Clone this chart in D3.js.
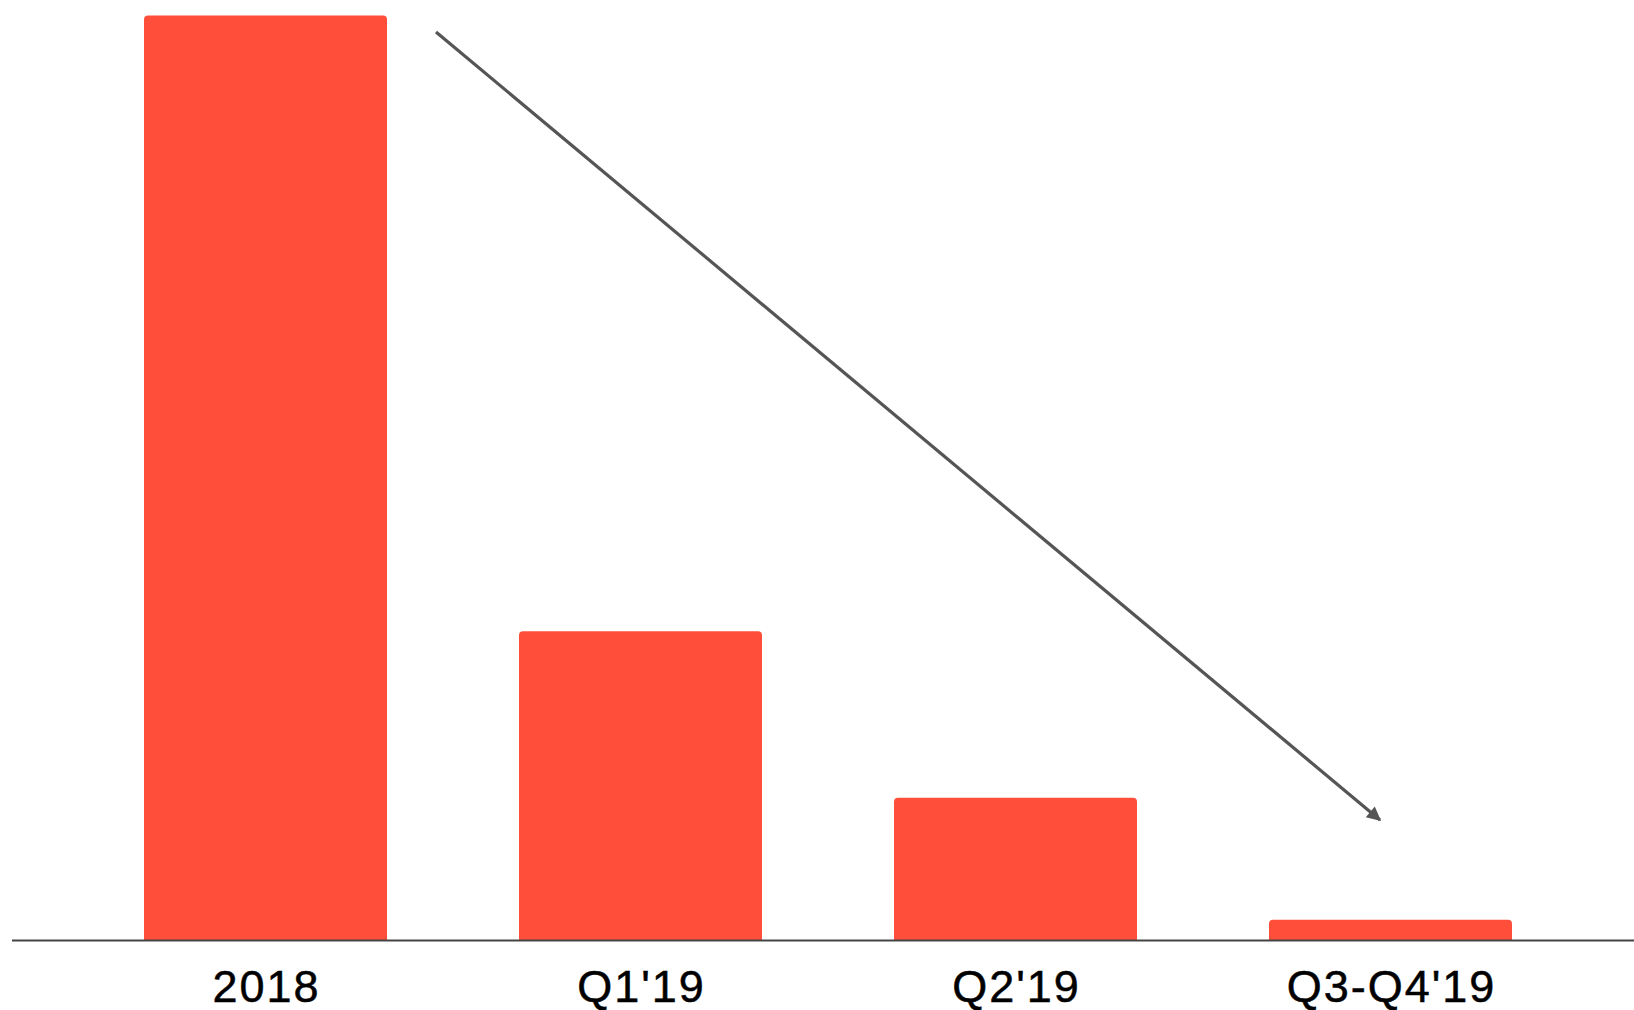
<!DOCTYPE html>
<html>
<head>
<meta charset="utf-8">
<script src="https://cdn.jsdelivr.net/npm/d3@7"></script>
<style>
  html, body { margin: 0; padding: 0; background: #fff; }
  svg { display: block; }
</style>
</head>
<body>
<script>
const categories = ["2018", "Q1'19", "Q2'19", "Q3-Q4'19"];
const values = [100, 33.4, 15.4, 2.2];

const W = 1634, H = 1010;
const baseY = 940;
const topY = 15.6;

const svg = d3.select("body").append("svg")
  .attr("width", W).attr("height", H);

const x = d3.scaleBand()
  .domain(categories)
  .range([12, 1644])
  .paddingInner(0.352)
  .paddingOuter(0.352);

const y = d3.scaleLinear()
  .domain([0, 100])
  .range([baseY, topY]);

const r = 4;
svg.append("g").selectAll("path")
  .data(values)
  .join("path")
  .attr("fill", "#ff4f3b")
  .attr("d", (d, i) => {
    const x0 = x(categories[i]), x1 = x0 + x.bandwidth();
    const y0 = y(d), y1 = baseY;
    const rr = Math.min(r, (y1 - y0) / 2);
    return `M${x0},${y1}V${y0 + rr}Q${x0},${y0} ${x0 + rr},${y0}H${x1 - rr}Q${x1},${y0} ${x1},${y0 + rr}V${y1}Z`;
  });

// category axis (labels only)
const axis = d3.axisBottom(x).tickSize(0).tickPadding(0);
const gAxis = svg.append("g")
  .attr("transform", `translate(0,${baseY})`)
  .call(axis);
gAxis.select(".domain").remove();
gAxis.selectAll("text")
  .attr("font-family", "'Liberation Sans', Arial, sans-serif")
  .attr("font-size", 45)
  .attr("letter-spacing", "2px")
  .attr("fill", "#000")
  .attr("stroke", "#000")
  .attr("stroke-width", 0.5)
  .attr("dx", 1)
  .attr("dy", null)
  .attr("y", 62);

svg.append("line")
  .attr("x1", 12).attr("x2", W)
  .attr("y1", baseY + 0.5).attr("y2", baseY + 0.5)
  .attr("stroke", "#444").attr("stroke-width", 2);

// trend arrow
const defs = svg.append("defs");
defs.append("marker")
  .attr("id", "ah")
  .attr("viewBox", "0 0 10 10")
  .attr("refX", 9).attr("refY", 5)
  .attr("markerWidth", 5).attr("markerHeight", 4.4)
  .attr("markerUnits", "strokeWidth")
  .attr("orient", "auto")
  .append("path")
  .attr("d", "M0,0L10,5L0,10Z")
  .attr("fill", "#555");

svg.append("line")
  .attr("x1", 436).attr("y1", 32)
  .attr("x2", 1380).attr("y2", 820)
  .attr("stroke", "#555")
  .attr("stroke-width", 3.2)
  .attr("marker-end", "url(#ah)");
</script>
</body>
</html>
